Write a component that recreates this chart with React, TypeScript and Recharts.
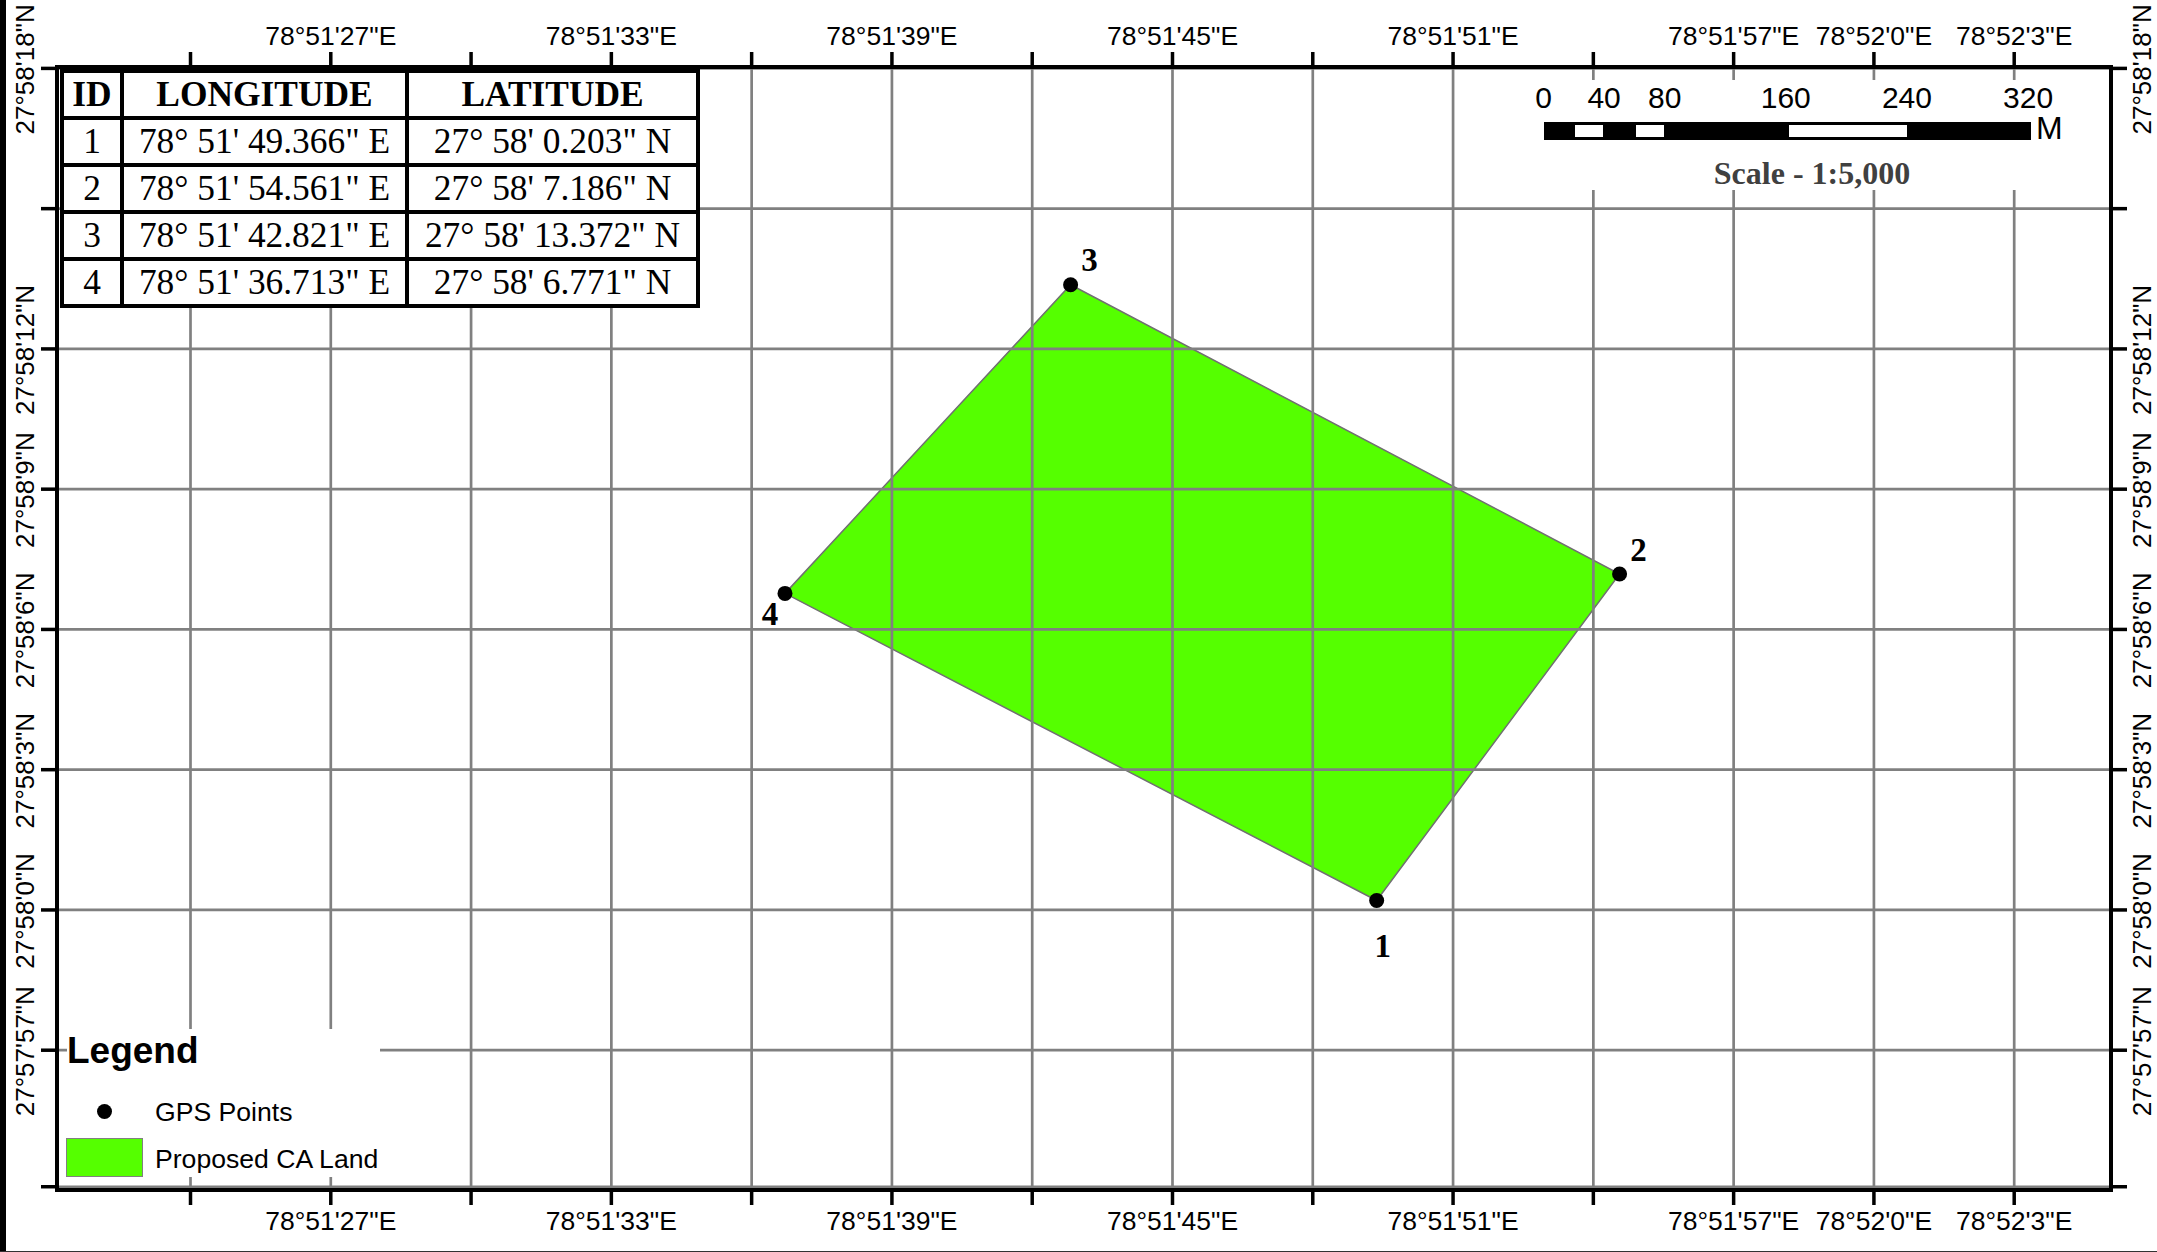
import { ComposedChart, ReferenceLine, Scatter, XAxis, YAxis } from "recharts";

// longitude seconds after 78°51', latitude seconds after 27°58'
const lonTicks = [24, 27, 30, 33, 36, 39, 42, 45, 48, 51, 54, 57, 60, 63];
const lonLabels = ["", `78°51'27"E`, "", `78°51'33"E`, "", `78°51'39"E`, "", `78°51'45"E`, "", `78°51'51"E`, "", `78°51'57"E`, `78°52'0"E`, `78°52'3"E`];
const latTicks = [18, 15, 12, 9, 6, 3, 0, -3, -5.92];
const latLabels = [`27°58'18"N`, "", `27°58'12"N`, `27°58'9"N`, `27°58'6"N`, `27°58'3"N`, `27°58'0"N`, `27°57'57"N`, ""];

const pointIds = ["1", "2", "3", "4"];
const pointLon = [49.366, 54.561, 42.821, 36.713];
const pointLat = [0.203, 7.186, 13.372, 6.771];
const labelDx = [6, 19, 19, -15];
const labelDy = [57, -13, -14, 32];

const tableHead = ["ID", "LONGITUDE", "LATITUDE"];
const tableLon = [`78° 51' 49.366" E`, `78° 51' 54.561" E`, `78° 51' 42.821" E`, `78° 51' 36.713" E`];
const tableLat = [`27° 58' 0.203" N`, `27° 58' 7.186" N`, `27° 58' 13.372" N`, `27° 58' 6.771" N`];

const scaleStops = [0, 40, 80, 160, 240, 320];
const scaleWhite = [[20, 40], [60, 80], [160, 240]];

const points = pointIds.map((id, i) => ({ id, lon: pointLon[i], lat: pointLat[i] }));
const outline = [...points, points[0]];

const GREEN = "#55ff00";
const GRID = "#808080";
const SANS = "'Liberation Sans', Arial, sans-serif";
const SERIF = "'Liberation Serif', 'Times New Roman', serif";

const axisLine = { stroke: "#000", strokeWidth: 4, strokeLinecap: "square" as const };
const tickLine = { stroke: "#000", strokeWidth: 3.5 };

function HorizontalTick({ x, payload, orientation }: any) {
  const label = lonLabels[lonTicks.indexOf(payload.value)];
  if (!label) return null;
  const base = orientation === "top" ? 45 : 1230;
  return (
    <text x={x} y={base} textAnchor="middle" fontFamily={SANS} fontSize={26.5} fill="#000">
      {label}
    </text>
  );
}

function VerticalTick({ y, payload, orientation }: any) {
  const label = latLabels[latTicks.indexOf(payload.value)];
  if (!label) return null;
  const cx = orientation === "left" ? 34 : 2151;
  return (
    <text transform={`translate(${cx},${y + 1}) rotate(-90)`} textAnchor="middle" fontFamily={SANS} fontSize={26} fill="#000">
      {label}
    </text>
  );
}

function GpsPoint({ cx, cy, index }: any) {
  return (
    <g>
      <circle cx={cx} cy={cy} r={7.5} fill="#000" />
      <text x={cx + labelDx[index]} y={cy + labelDy[index]} textAnchor="middle" fontFamily={SERIF} fontWeight="bold" fontSize={33} fill="#000">
        {pointIds[index]}
      </text>
    </g>
  );
}

const scaleX = (m: number) => 1543.5 + m * 1.5219;

function CoordinateTable() {
  const cell = { border: "4.5px solid #000", padding: "1px 0 0", textAlign: "center" as const, height: 42 };
  return (
    <table
      style={{
        position: "absolute", left: 60, top: 69, width: 638.5, height: 238, tableLayout: "fixed",
        borderCollapse: "collapse", background: "#fff", fontFamily: SERIF, fontSize: 35.4, color: "#000", lineHeight: 1,
      }}
    >
      <colgroup>
        <col style={{ width: 60 }} />
        <col style={{ width: 285 }} />
        <col style={{ width: 291 }} />
      </colgroup>
      <thead>
        <tr>
          {tableHead.map((h) => (
            <th key={h} style={{ ...cell, fontWeight: "bold" }}>{h}</th>
          ))}
        </tr>
      </thead>
      <tbody>
        {pointIds.map((id, i) => (
          <tr key={id}>
            <td style={cell}>{id}</td>
            <td style={{ ...cell, whiteSpace: "nowrap" }}>{tableLon[i]}</td>
            <td style={{ ...cell, whiteSpace: "nowrap" }}>{tableLat[i]}</td>
          </tr>
        ))}
      </tbody>
    </table>
  );
}

function ScaleBar() {
  return (
    <>
      <div style={{ position: "absolute", left: 1500, top: 80, width: 570, height: 110, background: "#fff" }} />
      {scaleStops.map((m) => (
        <div key={m} style={{ position: "absolute", left: scaleX(m * 0.995) - 40, width: 80, top: 82, textAlign: "center", fontFamily: SANS, fontSize: 30, lineHeight: "32px", color: "#000" }}>
          {m}
        </div>
      ))}
      <div style={{ position: "absolute", left: 1543.5, top: 122.3, width: 487, height: 18, background: "#000" }} />
      {scaleWhite.map(([a, b]) => (
        <div key={a} style={{ position: "absolute", left: scaleX(a) + 1.5, top: 125, width: scaleX(b) - scaleX(a) - 3, height: 12.3, background: "#fff" }} />
      ))}
      <div style={{ position: "absolute", left: 2036, top: 112, fontFamily: SANS, fontSize: 32, lineHeight: "32px", color: "#000" }}>M</div>
      <div style={{ position: "absolute", left: 1700, width: 224, top: 155, textAlign: "center", fontFamily: SERIF, fontWeight: "bold", fontSize: 32, lineHeight: "36px", color: "#404040" }}>
        Scale - 1:5,000
      </div>
    </>
  );
}

function MapLegend() {
  const text = { position: "absolute" as const, left: 155, fontFamily: SANS, fontSize: 26.6, lineHeight: "30px", color: "#000", whiteSpace: "nowrap" as const };
  return (
    <>
      <div style={{ position: "absolute", left: 67, top: 1029, width: 313, height: 148, background: "#fff" }} />
      <div style={{ position: "absolute", left: 67, top: 1030, fontFamily: SANS, fontWeight: "bold", fontSize: 37, lineHeight: "42px", color: "#000" }}>Legend</div>
      <div style={{ position: "absolute", left: 96.5, top: 1104, width: 15, height: 15, borderRadius: "50%", background: "#000" }} />
      <div style={{ ...text, top: 1097 }}>GPS Points</div>
      <div style={{ position: "absolute", left: 66, top: 1138, width: 75, height: 37, background: GREEN, border: "1px solid #808080" }} />
      <div style={{ ...text, top: 1144 }}>Proposed CA Land</div>
    </>
  );
}

export default function App() {
  return (
    <div style={{ position: "absolute", left: 0, top: 0, width: 2157, height: 1252, background: "#fff", overflow: "hidden" }}>
      <ComposedChart width={2157} height={1252} margin={{ top: 0, right: 0, bottom: 0, left: 0 }}>
        <XAxis zIndex={800} dataKey="lon" type="number" orientation="bottom" height={62} domain={[21.145, 65.07]} ticks={lonTicks} interval={0} tickSize={15} axisLine={axisLine} tickLine={tickLine} tick={<HorizontalTick orientation="bottom" />} allowDataOverflow />
        <XAxis zIndex={800} xAxisId="top" dataKey="lon" type="number" orientation="top" height={67} domain={[21.145, 65.07]} ticks={lonTicks} interval={0} tickSize={15} axisLine={axisLine} tickLine={tickLine} tick={<HorizontalTick orientation="top" />} allowDataOverflow />
        <YAxis zIndex={800} dataKey="lat" type="number" orientation="left" width={57} domain={[-5.99, 18.03]} ticks={latTicks} interval={0} tickSize={16} axisLine={axisLine} tickLine={tickLine} tick={<VerticalTick orientation="left" />} allowDataOverflow />
        <YAxis zIndex={800} yAxisId="right" dataKey="lat" type="number" orientation="right" width={46} domain={[-5.99, 18.03]} ticks={latTicks} interval={0} tickSize={16} axisLine={axisLine} tickLine={tickLine} tick={<VerticalTick orientation="right" />} allowDataOverflow />
        <Scatter zIndex={100} data={outline} dataKey="lat" isAnimationActive={false} fill={GREEN} shape={() => null} line={{ fill: GREEN, stroke: "#707070", strokeWidth: 1.5 }} lineType="joint" />
        {lonTicks.map((v) => (
          <ReferenceLine zIndex={200} key={`lon-${v}`} x={v} stroke={GRID} strokeWidth={2.7} />
        ))}
        {latTicks.map((v) => (
          <ReferenceLine zIndex={200} key={`lat-${v}`} y={v} stroke={GRID} strokeWidth={2.7} />
        ))}
        <Scatter zIndex={700} data={points} dataKey="lat" isAnimationActive={false} fill="#000" shape={<GpsPoint />} />
      </ComposedChart>
      <CoordinateTable />
      <ScaleBar />
      <MapLegend />
      <div style={{ position: "absolute", left: 0, top: 0, width: 5.5, height: 1252, background: "#000" }} />
      <div style={{ position: "absolute", left: 0, top: 1250.5, width: 2157, height: 1.5, background: "#333" }} />
    </div>
  );
}
